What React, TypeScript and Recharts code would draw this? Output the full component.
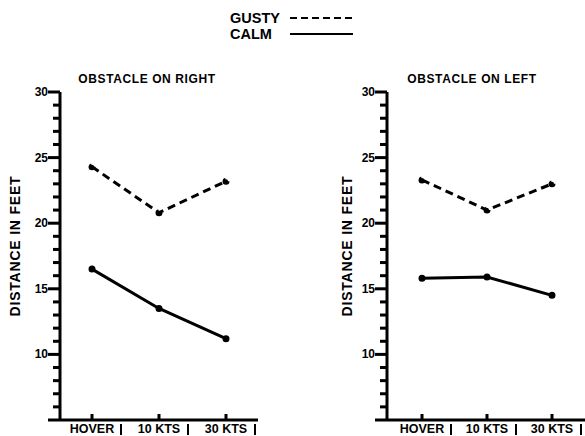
import React from 'react';
import { LineChart, Line, XAxis, YAxis } from 'recharts';

// wind conditions along the x axis
const speeds = ['HOVER', '10 KTS', '30 KTS'];

// obstacle on right
const gustyRight = [24.3, 20.8, 23.2];
const calmRight = [16.5, 13.5, 11.2];

// obstacle on left
const gustyLeft = [23.3, 21.0, 23.0];
const calmLeft = [15.8, 15.9, 14.5];

const yTicks = [5, 6, 7, 8, 9, 10, 11, 12, 13, 14, 15, 16, 17, 18, 19, 20, 21, 22, 23, 24, 25, 26, 27, 28, 29, 30];
const yLabels = [10, 15, 20, 25, 30];

const FONT = '"Liberation Sans", Arial, sans-serif';

const rightData = speeds.map((speed, i) => ({ speed, gusty: gustyRight[i], calm: calmRight[i] }));
const leftData = speeds.map((speed, i) => ({ speed, gusty: gustyLeft[i], calm: calmLeft[i] }));

// x here is the axis line (tickSize 0, tickMargin 0)
const YTick = (props: any) => {
  const { x, y, payload } = props;
  const v = Number(payload.value);
  const major = v % 5 === 0;
  return (
    <g>
      <rect x={x - (major ? 12 : 7)} y={y - 1.5} width={major ? 12 : 7} height={3} fill="#000" />
      {yLabels.includes(v) && (
        <text x={x - 12} y={y} dy={4} textAnchor="end" fontFamily={FONT} fontWeight="bold" fontSize={12} fill="#000">
          {v}
        </text>
      )}
    </g>
  );
};

// y here is the axis line (tick marks point up)
const XTick = (props: any) => {
  const { x, y, payload } = props;
  return (
    <g>
      <rect x={x - 1.5} y={y - 6} width={3} height={6} fill="#000" />
      <text x={x} y={y + 13} textAnchor="middle" fontFamily={FONT} fontWeight="bold" fontSize={12.5} fill="#000">
        {payload.value}
      </text>
      <rect x={x + 28} y={y + 4} width={2} height={11} fill="#000" />
    </g>
  );
};

interface PanelProps {
  data: { speed: string; gusty: number; calm: number }[];
  title: string;
  left: number;
  width: number;
  axisWidth: number;
  marginRight: number;
  padLeft: number;
  padRight: number;
  labelX: number;
  titleX: number;
}

const Panel = ({ data, title, left, width, axisWidth, marginRight, padLeft, padRight, labelX, titleX }: PanelProps) => (
  <div style={{ position: 'absolute', left, top: 0, width, height: 436 }}>
    <div
      style={{
        position: 'absolute',
        left: titleX - left - 100,
        top: 72,
        width: 200,
        textAlign: 'center',
        fontFamily: FONT,
        fontWeight: 'bold',
        fontSize: 12,
        lineHeight: '14px',
        letterSpacing: 0.6,
      }}
    >
      {title}
    </div>
    <div
      style={{
        position: 'absolute',
        left: labelX - left - 90,
        top: 246 - 9,
        width: 180,
        height: 18,
        lineHeight: '18px',
        textAlign: 'center',
        transform: 'rotate(-90deg)',
        fontFamily: FONT,
        fontWeight: 'bold',
        fontSize: 14,
        letterSpacing: 0.8,
      }}
    >
      DISTANCE IN FEET
    </div>
    <div style={{ position: 'absolute', left: 0, top: 60 }}>
      <LineChart width={width} height={376} data={data} margin={{ top: 32, right: marginRight, bottom: 0, left: 0 }}>
        <XAxis
          dataKey="speed"
          type="category"
          padding={{ left: padLeft, right: padRight }}
          height={16}
          tickSize={0}
          tickMargin={0}
          interval={0}
          tickLine={false}
          axisLine={{ stroke: '#000', strokeWidth: 3 }}
          tick={<XTick />}
        />
        <YAxis
          type="number"
          domain={[5, 30]}
          ticks={yTicks}
          interval={0}
          width={axisWidth}
          tickSize={0}
          tickMargin={0}
          tickLine={false}
          axisLine={{ stroke: '#000', strokeWidth: 3 }}
          tick={<YTick />}
        />
        <Line
          type="linear"
          dataKey="gusty"
          stroke="#000"
          strokeWidth={3}
          strokeDasharray="8 5"
          dot={{ r: 2, fill: '#000', stroke: '#000' }}
          isAnimationActive={false}
        />
        <Line
          type="linear"
          dataKey="calm"
          stroke="#000"
          strokeWidth={3}
          dot={{ r: 2, fill: '#000', stroke: '#000' }}
          isAnimationActive={false}
        />
      </LineChart>
    </div>
  </div>
);

export default function App() {
  return (
    <div style={{ position: 'absolute', left: 0, top: 0, width: 585, height: 436, background: '#fff', overflow: 'hidden' }}>
      <svg width={585} height={50} style={{ position: 'absolute', left: 0, top: 0 }}>
        <text x={230} y={23} fontFamily={FONT} fontWeight="bold" fontSize={14.5} fill="#000">
          GUSTY
        </text>
        <line x1={290} x2={353} y1={18} y2={18} stroke="#000" strokeWidth={2} strokeDasharray="7 4" />
        <text x={230} y={39} fontFamily={FONT} fontWeight="bold" fontSize={14.5} fill="#000">
          CALM
        </text>
        <line x1={290} x2={353} y1={34} y2={34} stroke="#000" strokeWidth={2} />
      </svg>
      <Panel
        data={rightData}
        title="OBSTACLE ON RIGHT"
        left={0}
        width={290}
        axisWidth={60}
        marginRight={32}
        padLeft={32}
        padRight={32}
        labelX={15}
        titleX={147}
      />
      <Panel
        data={leftData}
        title="OBSTACLE ON LEFT"
        left={300}
        width={285}
        axisWidth={87}
        marginRight={0}
        padLeft={35}
        padRight={33}
        labelX={347}
        titleX={472}
      />
    </div>
  );
}
